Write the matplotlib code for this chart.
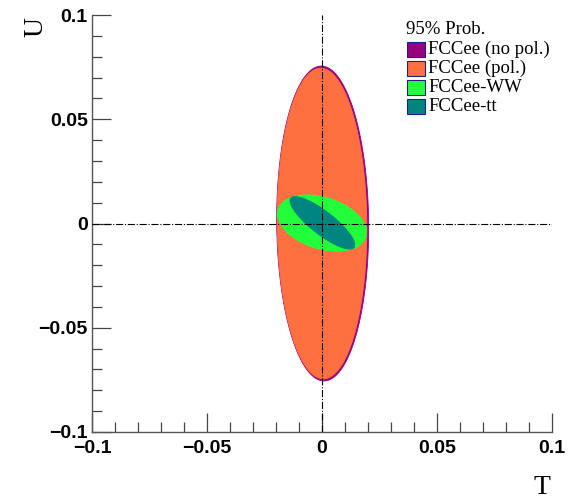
import numpy as np
import matplotlib
matplotlib.use("Agg")
import matplotlib.pyplot as plt
from matplotlib.patches import Rectangle
from matplotlib.ticker import MultipleLocator

# 图例条目与颜色
labels = ['FCCee (no pol.)', 'FCCee (pol.)', 'FCCee-WW', 'FCCee-tt']
colors = ['#990080', '#ff7040', '#22ff3a', '#008580']

# 95% 区域: 中心 (T, U), 半宽 T, 半宽 U, 相关系数
centers_T = [0.0003, 0.0, 0.0, 0.0002]
centers_U = [0.0, 0.0, 0.0002, 0.0003]
half_T = [0.0200, 0.0195, 0.0194, 0.0141]
half_U = [0.0755, 0.0745, 0.0135, 0.0126]
rho = [-0.03, -0.03, -0.33, -0.84]


def contour(cx, cy, a, b, r):
    """由半宽与相关系数得到椭圆轮廓"""
    t = np.linspace(0, 2 * np.pi, 300)
    x = cx + a * np.cos(t)
    y = cy + b * (r * np.cos(t) + np.sqrt(1 - r ** 2) * np.sin(t))
    return x, y


fig = plt.figure(figsize=(5.85, 5.0), dpi=100)
ax = fig.add_axes([92 / 585, 1 - 432 / 500, 460 / 585, 417 / 500])

for i in range(len(labels)):
    x, y = contour(centers_T[i], centers_U[i], half_T[i], half_U[i], rho[i])
    ax.fill(x, y, color=colors[i], lw=0.6, ec=colors[i], zorder=2 + i)

# 零点参考线
ax.axvline(0, color='black', ls='-.', lw=0.8, zorder=10)
ax.axhline(0, color='black', ls='-.', lw=0.8, zorder=10)

ax.set_xlim(-0.1, 0.1)
ax.set_ylim(-0.1, 0.1)
ax.spines['top'].set_visible(False)
ax.spines['right'].set_visible(False)
for s in ['left', 'bottom']:
    ax.spines[s].set_color('#555555')
    ax.spines[s].set_linewidth(1.0)

ax.xaxis.set_major_locator(MultipleLocator(0.05))
ax.xaxis.set_minor_locator(MultipleLocator(0.01))
ax.yaxis.set_major_locator(MultipleLocator(0.05))
ax.yaxis.set_minor_locator(MultipleLocator(0.01))
ax.tick_params(which='both', direction='in', top=False, right=False, color='#444444')
ax.tick_params(which='major', length=14, width=0.9)
ax.tick_params(which='minor', length=7, width=0.9)
ax.tick_params(axis='x', which='major', pad=6)
ax.tick_params(axis='y', which='major', pad=3)

tick_vals = [-0.1, -0.05, 0, 0.05, 0.1]
tick_text = ['\u22120.1', '\u22120.05', '0', '0.05', '0.1']
ax.set_xticks(tick_vals)
ax.set_xticklabels(tick_text)
ax.set_yticks(tick_vals)
ax.set_yticklabels(tick_text)
for lab in ax.get_xticklabels() + ax.get_yticklabels():
    lab.set_fontfamily('Liberation Sans')
    lab.set_fontweight('bold')
    lab.set_fontsize(14)

fig.text(542 / 585, 1 - 487 / 500, 'T', fontfamily='Liberation Serif', fontsize=20,
         ha='center', va='center')
fig.text(36 / 585, 1 - 27 / 500, 'U', fontfamily='Liberation Serif', fontsize=20,
         ha='center', va='center', rotation=90)

# 图例
fig.text(406 / 585, 1 - 30 / 500, '95% Prob.', fontfamily='Liberation Serif',
         fontsize=13.5, va='center')
for i, lab in enumerate(labels):
    yc = 49.5 + i * 19
    fig.patches.append(Rectangle((407 / 585, 1 - (yc + 7.5) / 500), 18 / 585, 15 / 500,
                                 transform=fig.transFigure, fc=colors[i],
                                 ec='#202080', lw=0.8))
    fig.text(428 / 585, 1 - yc / 500, lab, fontfamily='Liberation Serif',
             fontsize=13.5, va='center')

fig.savefig('out.png', dpi=100)
